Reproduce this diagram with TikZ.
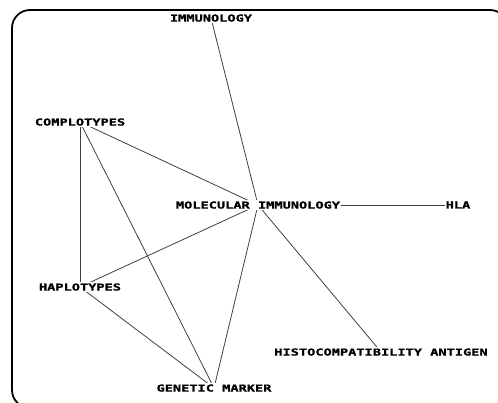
\documentclass[tikz,border=0pt]{standalone}
\usepackage{fontspec}
\newfontfamily\termfont[FakeStretch=1.42,FakeBold=1.2]{DejaVu Sans Mono Bold}
\begin{document}
\begin{tikzpicture}[x=1pt,y=-1pt,
  term/.style={fill=white,inner xsep=1pt,inner ysep=1.5pt,text depth=0pt,
    font=\termfont\fontsize{9.6}{10}\selectfont},
  link/.style={draw=black!75,line width=0.8pt},
  frame/.style={draw=black,line width=1.8pt,rounded corners=18pt}]
\useasboundingbox (0,0) rectangle (498,403);
\begin{scope}
  \clip (0,0) rectangle (498,403);
  \draw[frame] (12,10) rectangle (508,408);
\end{scope}
% term positions
\coordinate (pImm) at (211,18);
\coordinate (pCom) at (80,122);
\coordinate (pMol) at (258,205);
\coordinate (pHla) at (458,205);
\coordinate (pHap) at (80,287);
\coordinate (pHis) at (381,352);
\coordinate (pGen) at (214,388);
% links between terms (drawn first, covered by the labels)
\draw[link] (pImm) -- (pMol);
\draw[link] (pCom) -- (pMol);
\draw[link] (pCom) -- (pHap);
\draw[link] (pCom) -- (pGen);
\draw[link] (pMol) -- (pHla);
\draw[link] (pMol) -- (pHap);
\draw[link] (pMol) -- (pHis);
\draw[link] (pMol) -- (pGen);
\draw[link] (pHap) -- (pGen);
% term labels
\node[term] (imm) at (pImm) {IMMUNOLOGY};
\node[term] (com) at (pCom) {COMPLOTYPES};
\node[term] (mol) at (pMol) {MOLECULAR IMMUNOLOGY};
\node[term] (hla) at (pHla) {HLA};
\node[term] (hap) at (pHap) {HAPLOTYPES};
\node[term] (his) at (pHis) {HISTOCOMPATIBILITY ANTIGEN};
\node[term] (gen) at (pGen) {GENETIC MARKER};
\end{tikzpicture}
\end{document}
